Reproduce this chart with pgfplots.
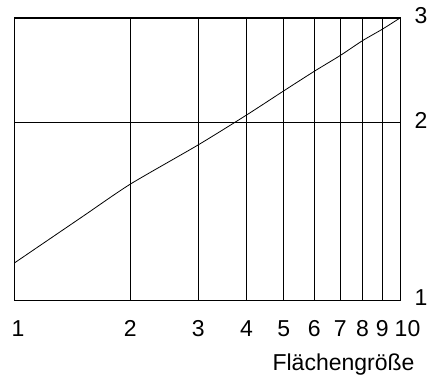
\documentclass[border=0pt]{standalone}
\usepackage{fontspec}
\setmainfont{Liberation Sans}
\usepackage{pgfplots}
\pgfplotsset{compat=1.18}
\begin{document}
\begin{tikzpicture}
\path[use as bounding box] (-14bp,-84bp) rectangle (419bp,300bp);
\begin{loglogaxis}[
  at={(0,0)}, anchor=south west,
  scale only axis, width=386bp, height=282bp,
  xmin=1, xmax=10, ymin=1, ymax=3,
  xtick={1,2,3,4,5,6,7,8,9,10},
  xticklabels={\hspace{8bp}1,2,3,4,5,6,7,8,9,\hspace{15bp}10},
  ytick={1,2,3},
  yticklabels={1,2,3},
  yticklabel pos=right,
  /pgf/number format/assume math mode=true,
  major tick length=0pt, minor tick length=0pt,
  xmajorgrids, ymajorgrids,
  xminorgrids=false, yminorgrids=false,
  grid style={black, line width=0.9bp},
  axis line style={black, line width=1bp},
  tick label style={font=\fontsize{23bp}{27bp}\selectfont},
  xticklabel style={anchor=base, yshift=-36bp},
  yticklabel style={anchor=west, xshift=11bp, yshift=2bp},
  xlabel={Flächengröße},
  xlabel style={at={(rel axis cs:1,0)}, anchor=base east, xshift=18bp, yshift=-70bp, font=\fontsize{23bp}{27bp}\selectfont},
]
\addplot[black, line width=0.8bp, mark=none, smooth, tension=0.4] coordinates {
  (1,1.154) (1.5,1.382) (2,1.570) (3,1.830) (4,2.055) (5,2.259) (6,2.438) (7,2.592) (8,2.747) (9,2.872) (10,3.0)
};
\end{loglogaxis}
\end{tikzpicture}
\end{document}
